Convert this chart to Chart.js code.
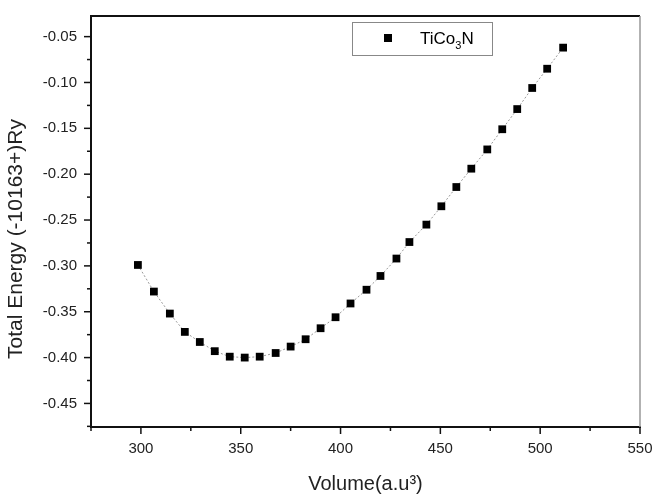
<!DOCTYPE html>
<html>
<head>
<meta charset="utf-8">
<script src="https://cdn.jsdelivr.net/npm/chart.js@4.4.0/dist/chart.umd.min.js"></script>
<style>
  html, body { margin: 0; padding: 0; background: #fff; }
  #wrap { width: 656px; height: 500px; }
</style>
</head>
<body>
<div id="wrap"><canvas id="chart_ev" width="656" height="500"></canvas></div>
<script>
/* E-V curve, TiCo3N */

var volume = [298.5, 306.5, 314.5, 322, 329.5, 337, 344.5, 352, 359.5, 367.5,
              375, 382.5, 390, 397.5, 405, 413, 420, 428, 434.5, 443,
              450.5, 458, 465.5, 473.5, 481, 488.5, 496, 503.5, 511.5];
var energy = [-0.299, -0.328, -0.352, -0.372, -0.383, -0.393, -0.399, -0.400, -0.399, -0.395,
              -0.388, -0.380, -0.368, -0.356, -0.341, -0.326, -0.311, -0.292, -0.274, -0.255,
              -0.235, -0.214, -0.194, -0.173, -0.151, -0.129, -0.106, -0.085, -0.062];

var xTicks = [275, 300, 325, 350, 375, 400, 425, 450, 475, 500, 525, 550];
var yTicks = [-0.475, -0.45, -0.425, -0.40, -0.375, -0.35, -0.325, -0.30, -0.275, -0.25,
              -0.225, -0.20, -0.175, -0.15, -0.125, -0.10, -0.075, -0.05];
var xMajor = [300, 350, 400, 450, 500, 550];
var yMajor = [-0.45, -0.40, -0.35, -0.30, -0.25, -0.20, -0.15, -0.10, -0.05];

var seriesName = "TiCo";
var seriesSub = "3";
var seriesTail = "N";
var yTitle = 'Total Energy (-10163+)Ry';

function isMajor(list, v) {
    for (var i = 0; i < list.length; i++) {
        if (Math.abs(list[i] - v) < 1e-6) return true;
    }
    return false;
}

var framePlugin = {
    id: 'frame',
    afterDraw: function(chart) {
        var ctx = chart.ctx;
        var a = chart.chartArea;
        var xs = chart.scales.x, ys = chart.scales.y;
        ctx.save();
        // top and right border
        ctx.strokeStyle = '#111';
        ctx.lineWidth = 2;
        ctx.beginPath();
        ctx.moveTo(a.left, a.top);
        ctx.lineTo(a.right, a.top);
        ctx.stroke();
        ctx.strokeStyle = '#999';
        ctx.lineWidth = 1.5;
        ctx.beginPath();
        ctx.moveTo(a.right, a.top);
        ctx.lineTo(a.right, a.bottom);
        ctx.stroke();

        // tick marks
        ctx.strokeStyle = '#111';
        ctx.lineWidth = 1.5;
        xs.ticks.forEach(function(t) {
            var px = xs.getPixelForValue(t.value);
            var len = isMajor(xMajor, t.value) ? 7 : 4;
            ctx.beginPath();
            ctx.moveTo(px, a.bottom);
            ctx.lineTo(px, a.bottom + len);
            ctx.stroke();
        });
        ys.ticks.forEach(function(t) {
            var py = ys.getPixelForValue(t.value);
            var len = isMajor(yMajor, t.value) ? 7 : 4;
            ctx.beginPath();
            ctx.moveTo(a.left, py);
            ctx.lineTo(a.left - len, py);
            ctx.stroke();
        });

        // y title, drawn by hand so it can sit a bit lower than centre
        ctx.save();
        ctx.translate(16, 239);
        ctx.rotate(-Math.PI / 2);
        ctx.fillStyle = '#222';
        ctx.font = '21px "Liberation Sans", Arial, sans-serif';
        ctx.textAlign = 'center';
        ctx.textBaseline = 'middle';
        ctx.fillText(yTitle, 0, 0);
        ctx.restore();

        // legend box
        var lx = 352, ly = 22, lw = 140, lh = 33;
        ctx.strokeStyle = '#888';
        ctx.lineWidth = 1;
        ctx.strokeRect(lx + 0.5, ly + 0.5, lw, lh);
        ctx.fillStyle = '#000';
        ctx.fillRect(384, 34, 8, 8);
        ctx.font = '17px "Liberation Sans", Arial, sans-serif';
        ctx.textBaseline = 'alphabetic';
        var tx = 420, ty = 44;
        ctx.fillText(seriesName, tx, ty);
        tx += ctx.measureText(seriesName).width;
        ctx.font = '11px "Liberation Sans", Arial, sans-serif';
        ctx.fillText(seriesSub, tx, ty + 5);
        tx += ctx.measureText(seriesSub).width;
        ctx.font = '17px "Liberation Sans", Arial, sans-serif';
        ctx.fillText(seriesTail, tx, ty);
        ctx.restore();
    }
};

var pts = volume.map(function(v, i) { return { x: v, y: energy[i] }; });

var ctx1 = document.getElementById("chart_ev").getContext("2d");
var evChart = new Chart(ctx1, {
    type: 'line',
    data: {
        datasets: [{
            label: seriesName + seriesSub + seriesTail,
            data: pts,
            borderColor: '#999',
            borderWidth: 1,
            borderDash: [2, 2],
            pointStyle: 'rect',
            pointRadius: 5.5,
            pointBackgroundColor: '#000',
            pointBorderWidth: 0,
            tension: 0
        }]
    },
    options: {
        responsive: false,
        animation: false,
        layout: { padding: { top: 9, right: 16, left: 0, bottom: 0 } },
        plugins: {
            legend: { display: false },
            tooltip: { enabled: false }
        },
        scales: {
            x: {
                type: 'linear',
                min: 275,
                max: 550,
                afterBuildTicks: function(scale) {
                    scale.ticks = xTicks.map(function(v) { return { value: v }; });
                },
                afterFit: function(scale) {
                    scale.height = 73;
                    scale.paddingRight = 0;
                    scale.paddingLeft = 0;
                },
                grid: { drawOnChartArea: false, drawTicks: true, tickLength: 7, tickColor: 'transparent' },
                border: { display: true, color: '#111', width: 2 },
                ticks: {
                    padding: 6,
                    maxRotation: 0,
                    autoSkip: false,
                    color: '#222',
                    font: { family: '"Liberation Sans", Arial, sans-serif', size: 15 },
                    callback: function(v) { return isMajor(xMajor, v) ? String(v) : ''; }
                },
                title: {
                    display: true,
                    text: 'Volume(a.u³)',
                    color: '#222',
                    font: { family: '"Liberation Sans", Arial, sans-serif', size: 20 },
                    padding: { top: 0, bottom: 4 }
                }
            },
            y: {
                type: 'linear',
                min: -0.4757,
                max: -0.0275,
                afterBuildTicks: function(scale) {
                    scale.ticks = yTicks.map(function(v) { return { value: v }; });
                },
                afterFit: function(scale) { scale.width = 91; },
                grid: { drawOnChartArea: false, drawTicks: true, tickLength: 7, tickColor: 'transparent' },
                border: { display: true, color: '#111', width: 2 },
                ticks: {
                    padding: 7,
                    autoSkip: false,
                    color: '#222',
                    font: { family: '"Liberation Sans", Arial, sans-serif', size: 15 },
                    callback: function(v) { return isMajor(yMajor, v) ? v.toFixed(2) : ''; }
                },
                title: { display: false }
            }
        }
    },
    plugins: [framePlugin]
});
</script>
</body>
</html>
